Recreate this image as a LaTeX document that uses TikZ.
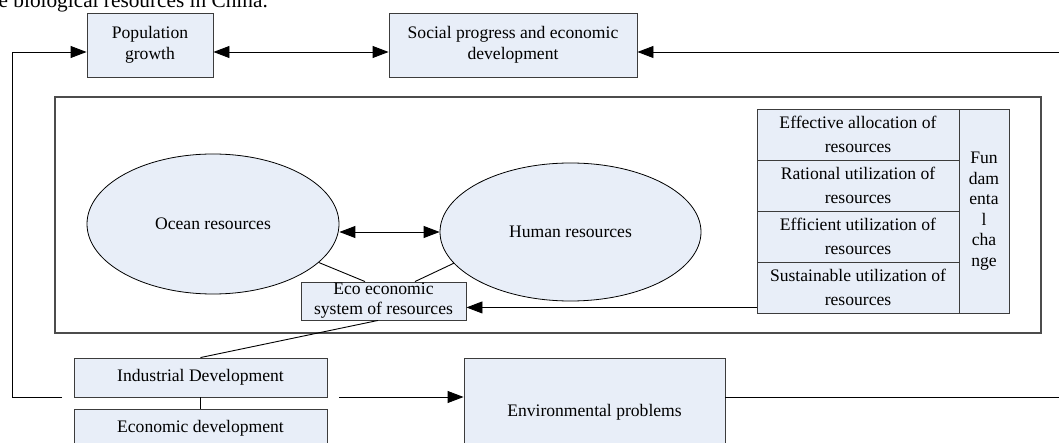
\documentclass[tikz,border=0pt]{standalone}
\usepackage{fontspec}
\setmainfont{Liberation Serif}
\usetikzlibrary{arrows.meta,shapes.geometric,calc}
\definecolor{boxfill}{RGB}{232,238,248}
\definecolor{boxline}{RGB}{60,60,60}
\begin{document}
\begin{tikzpicture}[x=1pt,y=-1pt,
  txt/.style={font=\fontsize{17.6}{21}\selectfont},
  box/.style={draw=boxline,fill=boxfill,line width=0.9pt,inner sep=0pt,align=center,txt},
  oval/.style={ellipse,draw=black,fill=boxfill,line width=0.8pt,inner sep=0pt,txt},
  rowbox/.style={box,minimum width=202pt,minimum height=51pt,font=\fontsize{17.6}{24}\selectfont},
  link/.style={draw=black,line width=0.9pt},
  arr/.style={link,-{Triangle[length=16pt,width=12pt]}},
  dblarr/.style={link,{Triangle[length=16pt,width=12pt]}-{Triangle[length=16pt,width=12pt]}}]
\useasboundingbox (0,0) rectangle (1059,443);
\clip (0,0) rectangle (1059,443);

% caption line running off the top edge
\node[anchor=base east,inner sep=0pt,font=\fontsize{21.3}{24}\selectfont] (cap) at (268,8) {the biological resources in China.};

% top row
\node[box,minimum width=126pt,minimum height=64pt] (pop) at (150,45) {Population\\growth};
\node[box,minimum width=248pt,minimum height=64pt] (soc) at (513,45) {Social progress and economic\\development};

% resource frame
\node[draw=black!70,line width=1.2pt,minimum width=986pt,minimum height=236pt,inner sep=0pt] (frame) at (548,215) {};

\node[oval,minimum width=252pt,minimum height=140pt] (ocean) at (213,224) {Ocean resources};
\node[oval,minimum width=261pt,minimum height=138pt] (human) at (570.5,232) {Human resources};
\node[box,minimum width=165pt,minimum height=38pt,font=\fontsize{17.6}{20}\selectfont] (eco) at (383.5,301) {Eco economic\\system of resources};

% table of utilization modes
\node[rowbox] (r1) at (858,134.5) {Effective allocation of\\resources};
\node[rowbox] (r2) at (858,185.5) {Rational utilization of\\resources};
\node[rowbox] (r3) at (858,236.5) {Efficient utilization of\\resources};
\node[rowbox] (r4) at (858,287.5) {Sustainable utilization of\\resources};
\node[box,minimum width=50pt,minimum height=204pt,font=\fontsize{17.6}{20.5}\selectfont] (fund) at (984,211) {Fun\\dam\\enta\\l\\cha\\nge};

% bottom row
\node[box,minimum width=253pt,minimum height=39pt] (ind) at (200.5,377.5) {Industrial Development};
\node[box,minimum width=253pt,minimum height=39pt] (econ) at (200.5,428.5) {Economic development};
\node[box,minimum width=261pt,minimum height=108pt] (env) at (594.5,412) {Environmental problems};

% free ends of the feedback loops
\coordinate (loopL) at (62,397);
\coordinate (cornerL) at (12,397);
\coordinate (popIn) at (87,52);
\coordinate (indOut) at (339,397);
\coordinate (rtop) at (1059,52);
\coordinate (rbot) at (1059,397);

% connectors
\draw[dblarr] ($(pop.east)+(0,7)$) -- ($(soc.west)+(0,7)$);
\draw[arr] (rtop) -- ($(soc.east)+(0,7)$);
\draw[arr] (loopL) -- (cornerL) |- (pop.west |- popIn);
\draw[dblarr] (ocean.east |- human.west) -- (human.west);
\draw[link] (ocean.-20) -- ($(eco.north)+(-18.5,0)$);
\draw[link] (human.195) -- ($(eco.north)+(31.5,0)$);
\draw[arr] ($(r4.south west)+(0,-6)$) coordinate (r4out) -- (r4out -| eco.east);
\draw[link] ($(eco.south)+(-5.5,0)$) -- (ind.north);
\draw[link] (ind.south) -- (econ.north);
\draw[arr] (indOut) -- (indOut -| env.west);
\draw[link] (env.east |- rbot) -- (rbot);
\end{tikzpicture}
\end{document}
